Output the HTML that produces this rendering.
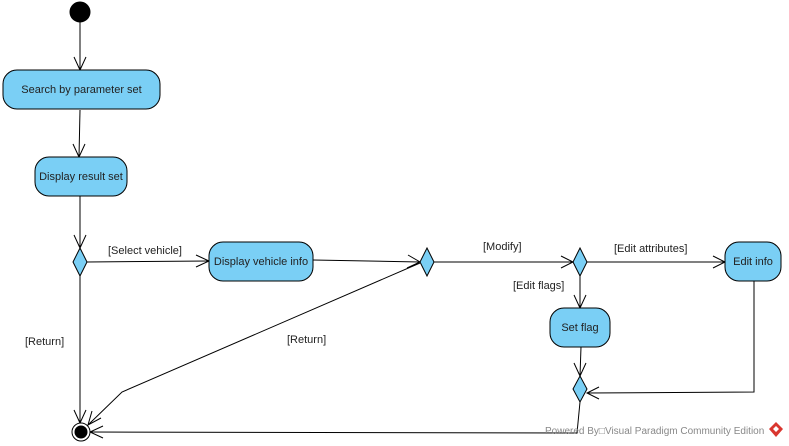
<!DOCTYPE html>
<html><head><meta charset="utf-8"><style>
html,body{margin:0;padding:0;background:#fff;}
svg{display:block;}
text{font-family:"Liberation Sans",Arial,sans-serif;font-size:11px;fill:#222;}
</style></head><body>
<svg width="789" height="446" viewBox="0 0 789 446" xmlns="http://www.w3.org/2000/svg">
<g stroke="#000" stroke-width="1" fill="none">
  <!-- edges -->
  <line x1="80" y1="22" x2="80" y2="70"/>
  <polyline points="74,57 80,70 86,57"/>
  <line x1="80" y1="110" x2="79" y2="157"/>
  <polyline points="73,144 79,157 85,144"/>
  <line x1="80" y1="196" x2="80" y2="248"/>
  <polyline points="74,235 80,248 86,235"/>
  <line x1="87" y1="262" x2="209" y2="261"/>
  <polyline points="196,255 209,261 196,267"/>
  <line x1="80" y1="276" x2="80" y2="423"/>
  <polyline points="74,410 80,423 86,410"/>
  <line x1="313" y1="260" x2="420" y2="262"/>
  <polyline points="408,255 420,262 407,268"/>
  <polyline points="420,263 122,392 88,425"/>
  <polyline points="92,411 88,425 101,418"/>
  <line x1="434" y1="262" x2="573" y2="262"/>
  <polyline points="561,256 573,262 561,268"/>
  <line x1="587" y1="262" x2="725" y2="262"/>
  <polyline points="713,256 725,262 713,268"/>
  <line x1="580" y1="276" x2="580" y2="308"/>
  <polyline points="574,295 580,308 586,295"/>
  <line x1="581" y1="347" x2="580" y2="376"/>
  <polyline points="574,363 580,376 586,363"/>
  <polyline points="754,281 754,392 587,393"/>
  <polyline points="599,387 587,393 599,399"/>
  <polyline points="580,402 577,433 90,432"/>
  <polyline points="103,426 90,432 103,438"/>
  <!-- nodes -->
  <circle cx="80" cy="12" r="10" fill="#000"/>
  <rect x="3" y="70" width="157" height="39" rx="14" fill="#7acff5"/>
  <rect x="35" y="157" width="92" height="39" rx="14" fill="#7acff5"/>
  <rect x="209" y="242" width="104" height="39" rx="14" fill="#7acff5"/>
  <rect x="725" y="242" width="56" height="39" rx="14" fill="#7acff5"/>
  <rect x="550" y="308" width="60" height="39" rx="14" fill="#7acff5"/>
  <polygon points="80,248 87,262 80,276 73,262" fill="#7acff5"/>
  <polygon points="427,248 434,262 427,276 420,262" fill="#7acff5"/>
  <polygon points="580,248 587,262 580,276 573,262" fill="#7acff5"/>
  <polygon points="580,376 587,389 580,402 573,389" fill="#7acff5"/>
  <circle cx="81" cy="432" r="9" fill="#fff"/>
  <circle cx="81" cy="432" r="6" fill="#000"/>
</g>
<text x="81.5" y="93" text-anchor="middle">Search by parameter set</text>
<text x="81" y="180" text-anchor="middle">Display result set</text>
<text x="261" y="265" text-anchor="middle">Display vehicle info</text>
<text x="753" y="265" text-anchor="middle">Edit info</text>
<text x="580" y="331" text-anchor="middle">Set flag</text>
<text x="108" y="254">[Select vehicle]</text>
<text x="483" y="250">[Modify]</text>
<text x="614" y="252">[Edit attributes]</text>
<text x="513" y="289">[Edit flags]</text>
<text x="25" y="345">[Return]</text>
<text x="287" y="343">[Return]</text>
<text x="545" y="434" style="font-size:10px;fill:#888">Powered By□Visual Paradigm Community Edition</text>
<polygon points="776,422 783,429 776,437 769,429" fill="#d9362f"/>
<polygon points="776,426 779,429 776,432 773,429" fill="#fff"/>
</svg>
</body></html>
